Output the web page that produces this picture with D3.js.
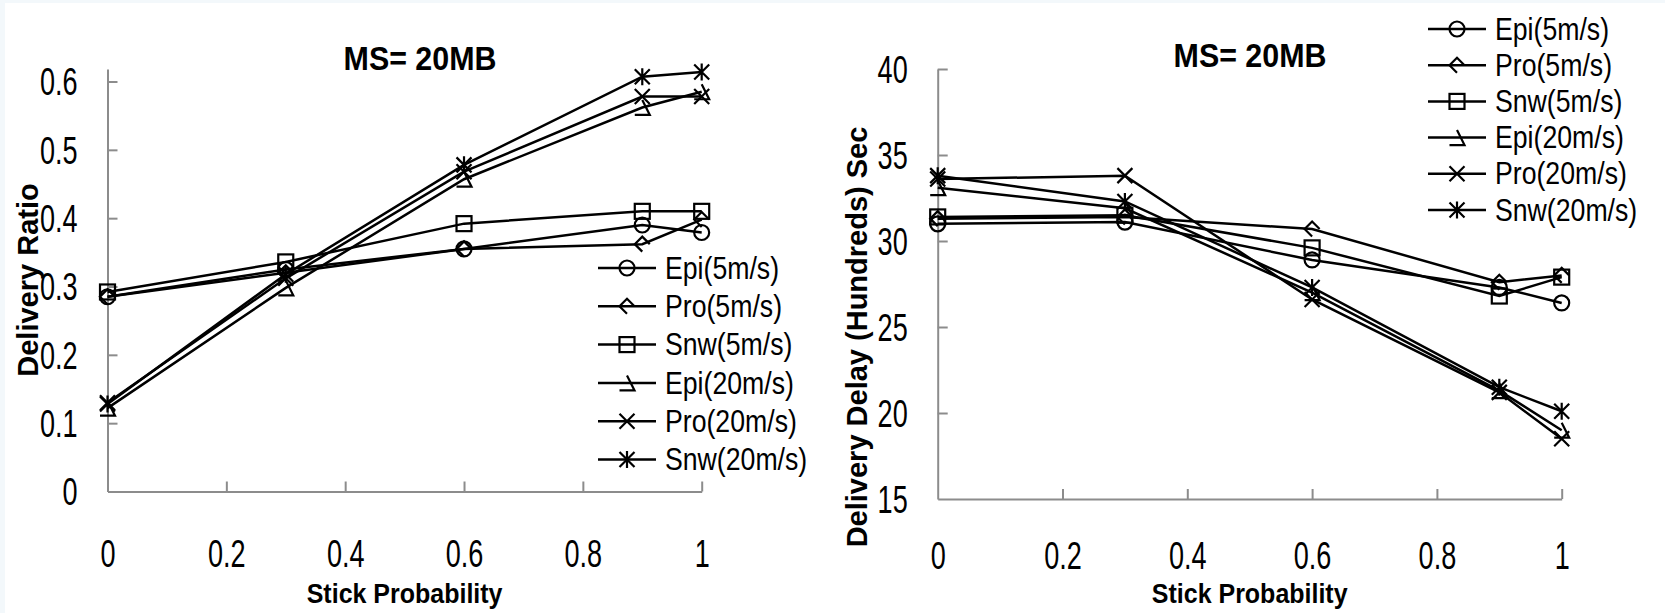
<!DOCTYPE html>
<html lang="en">
<head>
    <meta charset="UTF-8">
    <title>MS=20MB</title>
    <script src="https://d3js.org/d3.v7.min.js"></script>
    <style>
        body{
            margin:0;
            background:#ffffff;
        }
        .tick text{
            font-family:"Liberation Sans",Arial,sans-serif;
            font-size:33px;
            fill:#000;
        }
        .axis path, .axis line{
            stroke:#8c8c8c;
            stroke-width:2px;
        }
        .title, .axisLabel{
            font-family:"Liberation Sans",Arial,sans-serif;
            font-weight:bold;
        }
        .legendText{
            font-family:"Liberation Sans",Arial,sans-serif;
            font-size:29px;
        }
    </style>
</head>
<body>
<svg id="chart" width="1665" height="613"></svg>
<script>
    // x values (stick probability)
    var stickProb = [0, 0.3, 0.6, 0.9, 1];
    var xTicks = [0, 0.2, 0.4, 0.6, 0.8, 1];
    var xTickLabels = ["0", "0.2", "0.4", "0.6", "0.8", "1"];

    var seriesNames = ["Epi(5m/s)", "Pro(5m/s)", "Snw(5m/s)", "Epi(20m/s)", "Pro(20m/s)", "Snw(20m/s)"];
    var markerTypes = ["circle", "diamond", "square", "triangle", "cross", "star"];

    // delivery ratio
    var ratioEpi5 = [0.285, 0.325, 0.355, 0.390, 0.379];
    var ratioPro5 = [0.285, 0.320, 0.355, 0.362, 0.398];
    var ratioSnw5 = [0.292, 0.336, 0.392, 0.410, 0.410];
    var ratioEpi20 = [0.122, 0.298, 0.457, 0.562, 0.585];
    var ratioPro20 = [0.130, 0.312, 0.468, 0.578, 0.578];
    var ratioSnw20 = [0.128, 0.318, 0.478, 0.607, 0.614];
    var ratioTicks = [0, 0.1, 0.2, 0.3, 0.4, 0.5, 0.6];
    var ratioTickLabels = ["0", "0.1", "0.2", "0.3", "0.4", "0.5", "0.6"];

    // delivery delay (hundreds of seconds)
    var delayEpi5 = [31.0, 31.1, 28.9, 27.3, 26.4];
    var delayPro5 = [31.3, 31.4, 30.7, 27.6, 28.0];
    var delaySnw5 = [31.4, 31.5, 29.6, 26.8, 27.9];
    var delayEpi20 = [33.1, 31.9, 27.0, 21.3, 19.0];
    var delayPro20 = [33.6, 33.8, 26.6, 21.2, 18.5];
    var delaySnw20 = [33.8, 32.3, 27.3, 21.5, 20.1];
    var delayTicks = [15, 20, 25, 30, 35, 40];
    var delayTickLabels = ["15", "20", "25", "30", "35", "40"];

    var svg = d3.select("#chart");

    // faint border like the screenshot
    svg.append("rect").attr("width", 1665).attr("height", 613).attr("fill", "#f3f8fb");
    svg.append("rect").attr("x", 5).attr("y", 3).attr("width", 1660).attr("height", 610).attr("fill", "#ffffff");

    // tall narrow look of the original labels
    var tickScale = "scale(0.82,1.15)";
    var legendScale = "scale(0.92,1.05)";

    function drawMarker(g, type, cx, cy){
        var s = 7.5;
        var m = g.append("g").attr("transform", "translate(" + cx + "," + cy + ")")
            .attr("fill", "none").attr("stroke", "#000").attr("stroke-width", 2.2);
        if(type === "circle"){
            m.append("circle").attr("r", s);
        }else if(type === "diamond"){
            m.append("path").attr("d", "M0," + s + "L" + (-s) + ",0L0," + (-s) + "L" + s + ",0");
        }else if(type === "square"){
            m.append("rect").attr("x", -s).attr("y", -s).attr("width", 2 * s).attr("height", 2 * s);
        }else if(type === "triangle"){
            m.append("path").attr("d", "M" + (-s) + "," + s + "L" + s + "," + s + "L0," + (-s));
        }else if(type === "cross"){
            m.append("path").attr("d", "M" + (-s) + "," + (-s) + "L" + s + "," + s + "M" + (-s) + "," + s + "L" + s + "," + (-s));
        }else{
            m.append("path").attr("d", "M" + (-s) + "," + (-s) + "L" + s + "," + s + "M" + (-s) + "," + s + "L" + s + "," + (-s) + "M0," + (-s - 1) + "L0," + (s + 1));
        }
    }

    function drawChart(opt){
        var x = d3.scaleLinear().domain([0, 1]).range([opt.x0, opt.x1]);
        var y = d3.scaleLinear().domain(opt.yDomain).range([opt.yBottom, opt.yTop]);

        var xAxis = svg.append("g")
            .attr("class", "axis")
            .attr("transform", "translate(0," + opt.yBottom + ")")
            .call(d3.axisBottom(x).tickValues(xTicks).tickFormat(function(d, i){ return xTickLabels[i]; })
                .tickSize(-10).tickSizeOuter(0).tickPadding(0));
        xAxis.selectAll(".tick text")
            .attr("y", 0).attr("dy", "0.35em")
            .attr("transform", "translate(0," + opt.xLabelOffset + ") " + tickScale);

        var yAxis = svg.append("g")
            .attr("class", "axis")
            .attr("transform", "translate(" + opt.x0 + ",0)")
            .call(d3.axisLeft(y).tickValues(opt.yTicks).tickFormat(function(d, i){ return opt.yTickLabels[i]; })
                .tickSize(-10).tickSizeOuter(0).tickPadding(30));
        yAxis.selectAll(".tick text")
            .attr("x", 0).attr("dy", "0.35em")
            .attr("transform", "translate(-30,0) " + tickScale);
        // no tick line at the bottom value, it sits on the x axis
        yAxis.selectAll(".tick line").filter(function(d){ return d === opt.yDomain[0]; }).remove();
        xAxis.selectAll(".tick line").filter(function(d){ return d === 0; }).remove();

        var line = d3.line()
            .x(function(d, i){ return x(stickProb[i]); })
            .y(function(d){ return y(d); });

        opt.series.forEach(function(vals, k){
            svg.append("path")
                .attr("d", line(vals))
                .attr("fill", "none")
                .attr("stroke", "#000")
                .attr("stroke-width", 2.5);
            vals.forEach(function(v, i){
                drawMarker(svg, markerTypes[k], x(stickProb[i]), y(v));
            });
        });

        svg.append("text").attr("class", "title")
            .attr("transform", "translate(" + opt.titleX + "," + opt.titleY + ") scale(0.95,1.05)")
            .attr("text-anchor", "middle").attr("dy", "0.35em")
            .style("font-size", "32px")
            .text("MS= 20MB");

        svg.append("text").attr("class", "axisLabel")
            .attr("transform", "translate(" + ((opt.x0 + opt.x1) / 2) + ",593) scale(1,1.1)")
            .attr("text-anchor", "middle").attr("dy", "0.35em")
            .style("font-size", "25px")
            .text("Stick Probability");

        svg.append("text").attr("class", "axisLabel")
            .attr("transform", "translate(" + opt.yLabelX + "," + opt.yLabelY + ") rotate(-90)")
            .attr("text-anchor", "middle").attr("dy", "0.35em")
            .style("font-size", "29px")
            .text(opt.yLabel);

        // legend
        seriesNames.forEach(function(name, k){
            var ly = opt.legY + k * opt.legStep;
            svg.append("line")
                .attr("x1", opt.legX).attr("x2", opt.legX + 58)
                .attr("y1", ly).attr("y2", ly)
                .attr("stroke", "#000").attr("stroke-width", 2.5);
            drawMarker(svg, markerTypes[k], opt.legX + 29, ly);
            svg.append("text").attr("class", "legendText")
                .attr("transform", "translate(" + (opt.legX + 67) + "," + ly + ") " + legendScale)
                .attr("dy", "0.35em")
                .text(name);
        });
    }

    drawChart({
        x0: 107.5, x1: 701.7, yTop: 69, yBottom: 491.5,
        yDomain: [0, 0.6183], yTicks: ratioTicks, yTickLabels: ratioTickLabels,
        xLabelOffset: 62,
        series: [ratioEpi5, ratioPro5, ratioSnw5, ratioEpi20, ratioPro20, ratioSnw20],
        titleX: 420, titleY: 58,
        yLabel: "Delivery Ratio", yLabelX: 28, yLabelY: 280,
        legX: 598, legY: 268, legStep: 38.3
    });

    drawChart({
        x0: 937.7, x1: 1561.7, yTop: 69, yBottom: 499,
        yDomain: [15, 40], yTicks: delayTicks, yTickLabels: delayTickLabels,
        xLabelOffset: 57,
        series: [delayEpi5, delayPro5, delaySnw5, delayEpi20, delayPro20, delaySnw20],
        titleX: 1250, titleY: 55,
        yLabel: "Delivery Delay (Hundreds) Sec", yLabelX: 857, yLabelY: 337,
        legX: 1428, legY: 29, legStep: 36.2
    });
</script>
</body>
</html>
